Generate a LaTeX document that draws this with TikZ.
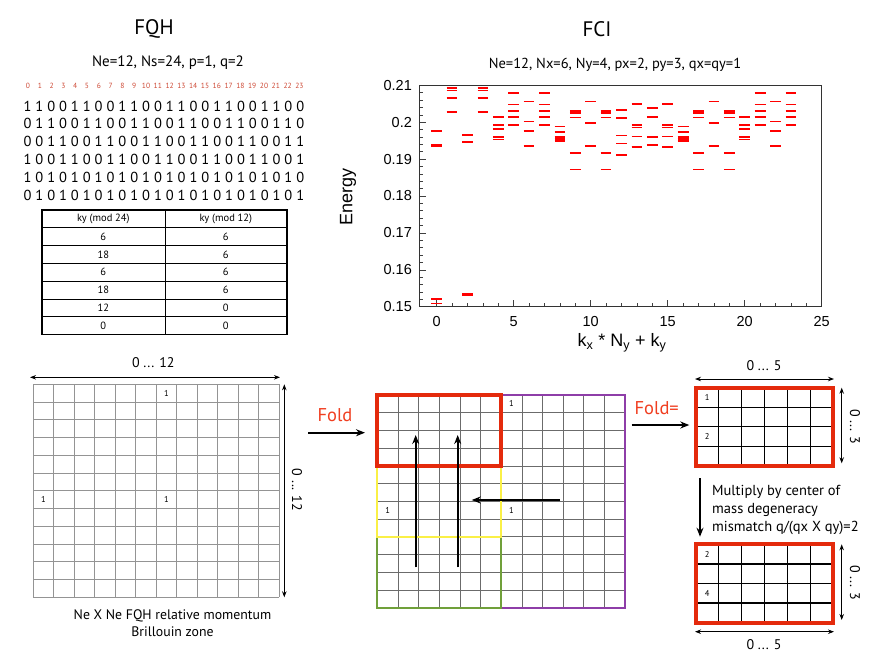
\documentclass[tikz,border=0pt]{standalone}
\usepackage{fontspec}
\setmainfont{PT Sans}
\newfontfamily\plotfont{Liberation Sans}
\usepackage{tikz}
\usetikzlibrary{arrows.meta}
\definecolor{foldred}{RGB}{240,62,32}
\definecolor{boxred}{RGB}{228,42,12}
\definecolor{digitred}{RGB}{205,72,52}
\definecolor{boxyellow}{RGB}{250,240,70}
\definecolor{boxgreen}{RGB}{112,160,58}
\definecolor{boxpurple}{RGB}{142,62,168}
\tikzstyle{bigArrow} = [line width=1.8pt, -{Stealth[length=9pt,width=7pt]}]
\tikzstyle{spanArrow} = [line width=0.9pt, {Stealth[length=6pt,width=4.5pt]}-{Stealth[length=6pt,width=4.5pt]}]
\tikzstyle{gridLine} = [line width=0.7pt, black!42]
\tikzstyle{midLine} = [line width=0.7pt, black!58]
\tikzstyle{smallLine} = [line width=1.4pt, black]
\tikzstyle{axisLine} = [line width=0.6pt, black!75]
\tikzstyle{cellLabel} = [inner sep=0pt, font=\fontsize{8.5}{9}\selectfont]
\tikzstyle{cellText} = [inner sep=0pt, font=\fontsize{10.5}{12}\selectfont]
\tikzstyle{bitText} = [inner sep=0pt, font=\fontsize{14.5}{16}\selectfont]
\tikzstyle{spanText} = [inner sep=0pt, font=\fontsize{14}{16}\selectfont]
\tikzstyle{foldText} = [inner sep=0pt, text=foldred, font=\fontsize{18.5}{20}\selectfont]
\tikzstyle{energyLevel} = [red, line width=1.7pt]
\tikzstyle{tickText} = [inner sep=0pt, font=\plotfont\fontsize{14.5}{16}\selectfont]

\begin{document}
\begin{tikzpicture}[x=1pt, y=-1pt]
  \useasboundingbox (0,0) rectangle (872,654);

  % titles
  \node (fqh) at (154,29) {\fontsize{21}{24}\selectfont FQH};
  \node (fci) at (597,29) {\fontsize{21}{24}\selectfont FCI};
  \node (fqhpar) at (168,63) {\fontsize{15}{17}\selectfont Ne=12, Ns=24, p=1, q=2};
  \node (fcipar) at (615,65) {\fontsize{14.5}{17}\selectfont Ne=12, Nx=6, Ny=4, px=2, py=3, qx=qy=1};

  % orbitals and occupations
  \foreach \i in {0,...,23}
    \node[inner sep=0pt, text=digitred, font=\fontsize{7.5}{8}\selectfont] (idx\i) at (28+11.8*\i,86) {\i};
  \foreach \bits [count=\r] in {
      {1,1,0,0,1,1,0,0,1,1,0,0,1,1,0,0,1,1,0,0,1,1,0,0},
      {0,1,1,0,0,1,1,0,0,1,1,0,0,1,1,0,0,1,1,0,0,1,1,0},
      {0,0,1,1,0,0,1,1,0,0,1,1,0,0,1,1,0,0,1,1,0,0,1,1},
      {1,0,0,1,1,0,0,1,1,0,0,1,1,0,0,1,1,0,0,1,1,0,0,1},
      {1,0,1,0,1,0,1,0,1,0,1,0,1,0,1,0,1,0,1,0,1,0,1,0},
      {0,1,0,1,0,1,0,1,0,1,0,1,0,1,0,1,0,1,0,1,0,1,0,1}}
    \foreach \b [count=\c] in \bits
      \node[bitText] (bit\r-\c) at (15.64+11.86*\c,88.2+17.8*\r) {\b};

  % ky table
  \foreach \i in {1,...,6}
    \draw[line width=0.8pt] (41.7,210+17.8*\i) -- (286.7,210+17.8*\i);
  \draw[line width=0.8pt] (165,210) -- (165,334.6);
  \draw[line width=1.6pt] (41.7,210) rectangle (286.7,334.6);
  \node[cellText] (headA) at (103.3,218.9) {ky (mod 24)};
  \node[cellText] (headB) at (225.8,218.9) {ky (mod 12)};
  \foreach \a/\b [count=\r] in {6/6,18/6,6/6,18/6,12/0,0/0} {
    \node[cellText] (colA\r) at (103.3,218.9+17.8*\r) {\a};
    \node[cellText] (colB\r) at (225.8,218.9+17.8*\r) {\b};
  }

  % spectrum
  \begin{scope}[shift={(436.7pt,-306.7pt)}, x=15.4pt, y=3.69pt]
    \foreach \k in {0,...,24} \draw[axisLine] (\k,0) -- (\k,0.9);
    \foreach \k in {0,5,...,20} {
      \draw[axisLine] (\k,0) -- (\k,1.8);
      \node[tickText] (xt\k) at (\k,-4.1) {\k};
    }
    \node[tickText] (xt25) at (25,-4.1) {25};
    \foreach \e in {0,2,...,60} \draw[axisLine] (-1.1,\e) -- (-0.9,\e);
    \foreach \e/\lab in {0/0.15,10/0.16,20/0.17,30/0.18,40/0.19,50/0.2,60/0.21} {
      \draw[axisLine] (-1.1,\e) -- (-0.7,\e);
      \node[tickText, anchor=east] (yt\e) at (-1.6,\e) {\lab};
    }
    \draw[line width=0.8pt, black!80] (-1.1,0) rectangle (25,60);
    \foreach \ks/\lv in {
        {0}/{197.6,193.9,193.4,152.1,150.9},
        {1,3}/{209.3,208.6,206.5,202.7},
        {2}/{196.5,194.7,153.4,153.0},
        {4,20}/{201.4,199.2,198.1,195.9,195.3},
        {5,7,21,23}/{207.9,204.8,203.1,201.4,199.2},
        {6,22}/{205.6,200.2,197.6,193.5},
        {8,16}/{198.8,197.3,195.9,195.4,194.9},
        {9,11,17,19}/{203.0,202.5,201.3,191.6,187.2},
        {10,18}/{205.6,199.7,193.5},
        {12}/{203.3,201.1,196.4,194.2,191.1},
        {13,15}/{204.9,199.2,198.6,196.1,193.4,193.2},
        {14}/{203.9,201.4,195.9,193.8}}
      \foreach \k in \ks
        \foreach \e in \lv
          \draw[energyLevel] (\k-0.35,\e-150) -- (\k+0.35,\e-150);
  \end{scope}
  \node[rotate=90, font=\plotfont\fontsize{18}{20}\selectfont] (ylab) at (348,197) {Energy};
  \node[font=\plotfont\fontsize{18}{20}\selectfont] (xlab) at (622,343)
    {k\textsubscript{x} * N\textsubscript{y} + k\textsubscript{y}};

  % FQH zone
  \begin{scope}[shift={(33.3pt,-384.3pt)}, x=20.5pt, y=-17.75pt]
    \foreach \i in {0,...,12} {
      \draw[gridLine] (\i,0) -- (\i,12);
      \draw[gridLine] (0,\i) -- (12,\i);
    }
    \node[cellLabel] (fz1) at (6.5,0.5) {1};
    \node[cellLabel] (fz2) at (0.5,6.5) {1};
    \node[cellLabel] (fz3) at (6.5,6.5) {1};
  \end{scope}
  \coordinate (fzTopL) at (30,377.3);
  \coordinate (fzTopR) at (280,377.3);
  \coordinate (fzSideT) at (284.3,384.3);
  \coordinate (fzSideB) at (284.3,597.3);
  \draw[spanArrow] (fzTopL) -- (fzTopR);
  \draw[spanArrow] (fzSideT) -- (fzSideB);
  \node[spanText] (fzTop) at (153.3,363) {0 ... 12};
  \node[spanText, rotate=-90] (fzSide) at (297,490) {0 ... 12};
  \node[spanText, align=center, font=\fontsize{13.8}{16.7}\selectfont] (fzCap) at (172.5,623)
    {Ne X Ne FQH relative momentum\\Brillouin zone};

  % folding
  \node[foldText] (fold) at (335,415) {Fold};
  \coordinate (foldA) at (308.3,432.7);
  \coordinate (foldB) at (365,432.7);
  \draw[bigArrow] (foldA) -- (foldB);
  \begin{scope}[shift={(377.3pt,-395pt)}, x=20.65pt, y=-17.72pt]
    \foreach \i in {0,...,12} {
      \draw[midLine] (\i,0) -- (\i,12);
      \draw[midLine] (0,\i) -- (12,\i);
    }
    \draw[boxpurple, line width=1.8pt] (6,0) rectangle (12,12);
    \draw[boxgreen, line width=1.8pt] (0,8) rectangle (6,12);
    \draw[boxyellow, line width=1.8pt] (0,4) rectangle (6,8);
    \draw[boxred, line width=4pt] (0,0) rectangle (6,4);
    \node[cellLabel] (mz1) at (6.5,0.5) {1};
    \node[cellLabel] (mz2) at (0.5,6.5) {1};
    \node[cellLabel] (mz3) at (6.5,6.5) {1};
  \end{scope}
  \coordinate (upAs) at (415.7,567.3);
  \coordinate (upAe) at (415.7,435);
  \coordinate (upBs) at (457.7,567.3);
  \coordinate (upBe) at (457.7,435);
  \coordinate (leftS) at (560,500);
  \coordinate (leftE) at (471.7,500);
  \draw[bigArrow] (upAs) -- (upAe);
  \draw[bigArrow] (upBs) -- (upBe);
  \draw[bigArrow] (leftS) -- (leftE);

  % FCI zone
  \node[foldText] (foldeq) at (656.7,408.3) {Fold=};
  \coordinate (feqA) at (631.7,425);
  \coordinate (feqB) at (689.3,425);
  \draw[bigArrow] (feqA) -- (feqB);
  \begin{scope}[shift={(695.7pt,-387.7pt)}, x=22.93pt, y=-19.5pt]
    \foreach \i in {1,...,5} \draw[smallLine] (\i,0) -- (\i,4);
    \foreach \i in {1,...,3} \draw[smallLine] (0,\i) -- (6,\i);
    \draw[boxred, line width=4.2pt] (0,0) rectangle (6,4);
    \node[cellLabel] (cz1) at (0.5,0.5) {1};
    \node[cellLabel] (cz2) at (0.5,2.5) {2};
  \end{scope}
  \coordinate (czTopL) at (695,379);
  \coordinate (czTopR) at (834,379);
  \coordinate (czSideT) at (841.7,387.7);
  \coordinate (czSideB) at (841.7,463.3);
  \draw[spanArrow] (czTopL) -- (czTopR);
  \draw[spanArrow] (czSideT) -- (czSideB);
  \node[spanText] (czTop) at (764,366) {0 ... 5};
  \node[spanText, rotate=-90] (czSide) at (855,426.7) {0 ... 3};

  \coordinate (mulA) at (700,478.3);
  \coordinate (mulB) at (700,536.7);
  \draw[bigArrow] (mulA) -- (mulB);
  \node[inner sep=0pt, anchor=west, align=left, font=\fontsize{14.5}{18.3}\selectfont] (mult) at (712,510)
    {Multiply by center of\\mass degeneracy\\mismatch q/(qx X qy)=2};

  \begin{scope}[shift={(695.7pt,-544.3pt)}, x=22.93pt, y=-19.6pt]
    \foreach \i in {1,...,5} \draw[smallLine] (\i,0) -- (\i,4);
    \foreach \i in {1,...,3} \draw[smallLine] (0,\i) -- (6,\i);
    \draw[boxred, line width=4.2pt] (0,0) rectangle (6,4);
    \node[cellLabel] (dz1) at (0.5,0.5) {2};
    \node[cellLabel] (dz2) at (0.5,2.5) {4};
  \end{scope}
  \coordinate (dzSideT) at (841.7,544.3);
  \coordinate (dzSideB) at (841.7,620);
  \coordinate (dzBotL) at (695,631.7);
  \coordinate (dzBotR) at (834,631.7);
  \draw[spanArrow] (dzSideT) -- (dzSideB);
  \draw[spanArrow] (dzBotL) -- (dzBotR);
  \node[spanText, rotate=-90] (dzSide) at (855,583) {0 ... 3};
  \node[spanText] (dzBot) at (764,645) {0 ... 5};
\end{tikzpicture}
\end{document}
